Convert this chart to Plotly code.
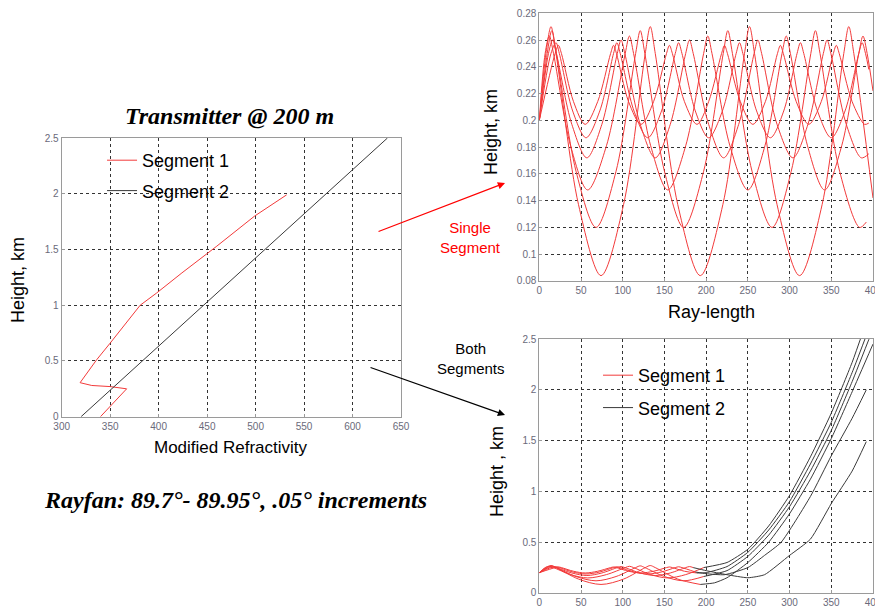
import plotly.graph_objects as go

# ---------------- data ----------------
# Left panel: modified refractivity profiles
SEG1_M = [340, 367, 350, 331, 319, 336, 350, 381, 398, 424, 460, 499, 532]
SEG1_H = [0.0, 0.25, 0.27, 0.28, 0.305, 0.51, 0.66, 1.0, 1.11, 1.29, 1.53, 1.8, 1.99]
SEG2_M = [320, 636]
SEG2_H = [0.0, 2.5]

# Top-right panel: six rays (89.7 .. 89.95 deg) in segment 1
RAY_A_X = [0, 19, 23, 26.5, 41, 55, 70, 85.5, 89, 92.5, 107, 122, 137, 152.5, 156, 159.5,
           174, 189, 203, 218.5, 222, 225.5, 241, 256, 271, 285.5, 289, 292.5, 308, 323, 338,
           352.5, 356, 359.5, 375, 390, 395]
RAY_A_Y = [0.2, 0.25, 0.256, 0.25, 0.214, 0.197, 0.214, 0.25, 0.256, 0.25, 0.214, 0.197, 0.214,
           0.25, 0.256, 0.25, 0.214, 0.197, 0.214, 0.25, 0.256, 0.25, 0.214, 0.197, 0.214,
           0.25, 0.256, 0.25, 0.214, 0.197, 0.214, 0.25, 0.256, 0.25, 0.214, 0.197, 0.198]
RAY_B_X = [0, 14, 20, 24, 40, 56, 72.5, 89, 93, 97, 113.5, 130, 146.5, 163, 167, 171, 187, 203,
           219.5, 236, 240, 244, 260.5, 277, 293, 309, 313, 317, 333.5, 350, 366.5, 383, 387, 391, 395]
RAY_B_Y = [0.2, 0.25, 0.258, 0.25, 0.207, 0.187, 0.207, 0.25, 0.258, 0.25, 0.207, 0.187, 0.207,
           0.25, 0.258, 0.25, 0.207, 0.187, 0.207, 0.25, 0.258, 0.25, 0.207, 0.187, 0.207,
           0.25, 0.258, 0.25, 0.207, 0.187, 0.207, 0.25, 0.258, 0.25, 0.238]
RAY_C_X = [0, 11, 16, 20.5, 39, 57, 75, 93.5, 98, 102.5, 121, 139, 157, 175.5, 180, 184.5, 203,
           221, 239, 257.5, 262, 266.5, 285, 304, 322, 340.5, 345, 349.5, 368, 386, 395]
RAY_C_Y = [0.2, 0.25, 0.26, 0.25, 0.197, 0.172, 0.197, 0.25, 0.26, 0.25, 0.197, 0.172, 0.197,
           0.25, 0.26, 0.25, 0.197, 0.172, 0.197, 0.25, 0.26, 0.25, 0.197, 0.172, 0.197,
           0.25, 0.26, 0.25, 0.197, 0.172, 0.175]
RAY_D_X = [0, 7, 12, 17, 37.5, 58, 80.5, 103, 108, 113, 133.5, 154, 175.5, 197, 202, 207, 228.5,
           250, 270.5, 291, 296, 301, 321.5, 342, 362.5, 383, 388, 393, 400]
RAY_D_Y = [0.2, 0.25, 0.263, 0.25, 0.181, 0.148, 0.181, 0.25, 0.263, 0.25, 0.181, 0.148, 0.181,
           0.25, 0.263, 0.25, 0.181, 0.148, 0.181, 0.25, 0.263, 0.25, 0.181, 0.148, 0.181,
           0.25, 0.263, 0.25, 0.222]
RAY_E_X = [0, 9.5, 15, 20.5, 44, 68, 92, 115.5, 121, 126.5, 150, 173, 197, 220.5, 226, 231.5,
           255, 279, 302, 325.5, 331, 336.5, 360, 384, 392]
RAY_E_Y = [0.2, 0.25, 0.267, 0.25, 0.162, 0.12, 0.162, 0.25, 0.267, 0.25, 0.162, 0.12, 0.162,
           0.25, 0.267, 0.25, 0.162, 0.12, 0.162, 0.25, 0.267, 0.25, 0.162, 0.12, 0.124]
RAY_F_X = [0, 8, 14, 20, 47, 74, 101, 127, 133, 139, 166, 193, 220, 246, 252, 258, 285, 312,
           339, 365, 371, 377, 400]
RAY_F_Y = [0.2, 0.25, 0.27, 0.25, 0.137, 0.084, 0.137, 0.25, 0.27, 0.25, 0.137, 0.084, 0.137,
           0.25, 0.27, 0.25, 0.137, 0.084, 0.137, 0.25, 0.27, 0.25, 0.142]

# Bottom-right panel: segment 2 continuation of each ray (black)
SEG2_RAY1_X = [197, 225, 250, 275, 300, 325, 350, 375, 390]
SEG2_RAY1_Y = [0.25, 0.3, 0.43, 0.66, 0.96, 1.34, 1.77, 2.27, 2.62]
SEG2_RAY2_X = [189, 200, 225, 250, 275, 300, 325, 350, 375, 395]
SEG2_RAY2_Y = [0.197, 0.2, 0.26, 0.4, 0.62, 0.9, 1.27, 1.68, 2.17, 2.6]
SEG2_RAY3_X = [197, 225, 250, 275, 300, 325, 350, 375, 400]
SEG2_RAY3_Y = [0.162, 0.22, 0.36, 0.57, 0.85, 1.2, 1.6, 2.08, 2.6]
SEG2_RAY4_X = [193, 210, 225, 250, 275, 300, 325, 350, 375, 400]
SEG2_RAY4_Y = [0.084, 0.1, 0.15, 0.3, 0.5, 0.78, 1.12, 1.52, 1.98, 2.45]
SEG2_RAY5_X = [187, 200, 222, 250, 270, 290, 325, 350, 375, 392]
SEG2_RAY5_Y = [0.207, 0.19, 0.18, 0.25, 0.37, 0.5, 0.95, 1.35, 1.72, 2.0]
SEG2_RAY6_X = [184.5, 200, 225, 250, 270, 300, 325, 350, 375, 392]
SEG2_RAY6_Y = [0.25, 0.22, 0.18, 0.15, 0.18, 0.37, 0.53, 0.88, 1.2, 1.49]

# Ticks
LEFT_X_TICKS = [300, 350, 400, 450, 500, 550, 600, 650]
LEFT_Y_TICKS = [0, 0.5, 1, 1.5, 2, 2.5]
LEFT_Y_LABELS = ["0", "0.5", "1", "1.5", "2", "2.5"]
RANGE_TICKS = [0, 50, 100, 150, 200, 250, 300, 350, 400]
TOP_Y_TICKS = [0.08, 0.1, 0.12, 0.14, 0.16, 0.18, 0.2, 0.22, 0.24, 0.26, 0.28]
TOP_Y_LABELS = ["0.08", "0.1", "0.12", "0.14", "0.16", "0.18", "0.2", "0.22", "0.24", "0.26", "0.28"]

RED = "#f23a3a"
BLACK = "#3a3a3a"

fig = go.Figure()

# ---- left panel ----
fig.add_trace(go.Scatter(x=SEG1_M, y=SEG1_H, mode="lines", name="Segment 1",
                         line=dict(color=RED, width=1), xaxis="x", yaxis="y",
                         legend="legend", legendgroup="l1"))
fig.add_trace(go.Scatter(x=SEG2_M, y=SEG2_H, mode="lines", name="Segment 2",
                         line=dict(color=BLACK, width=1), xaxis="x", yaxis="y",
                         legend="legend", legendgroup="l2"))

rays = [(RAY_A_X, RAY_A_Y), (RAY_B_X, RAY_B_Y), (RAY_C_X, RAY_C_Y),
        (RAY_D_X, RAY_D_Y), (RAY_E_X, RAY_E_Y), (RAY_F_X, RAY_F_Y)]

# ---- top-right panel ----
for rx, ry in rays:
    fig.add_trace(go.Scatter(x=rx, y=ry, mode="lines", showlegend=False,
                             line=dict(color=RED, width=1, shape="spline", smoothing=0.9),
                             xaxis="x2", yaxis="y2"))

# ---- bottom-right panel ----
for i, (rx, ry) in enumerate(rays):
    px = [x for x in rx if x <= 200]
    py = ry[:len(px)]
    fig.add_trace(go.Scatter(x=px, y=py, mode="lines", name="Segment 1",
                             showlegend=(i == 0), legend="legend2", legendgroup="b1",
                             line=dict(color=RED, width=1, shape="spline", smoothing=0.9),
                             xaxis="x3", yaxis="y3"))
seg2_rays = [(SEG2_RAY1_X, SEG2_RAY1_Y), (SEG2_RAY2_X, SEG2_RAY2_Y), (SEG2_RAY3_X, SEG2_RAY3_Y),
             (SEG2_RAY4_X, SEG2_RAY4_Y), (SEG2_RAY5_X, SEG2_RAY5_Y), (SEG2_RAY6_X, SEG2_RAY6_Y)]
for i, (rx, ry) in enumerate(seg2_rays):
    fig.add_trace(go.Scatter(x=rx, y=ry, mode="lines", name="Segment 2",
                             showlegend=(i == 0), legend="legend2", legendgroup="b2",
                             line=dict(color=BLACK, width=1, shape="spline", smoothing=0.5),
                             xaxis="x3", yaxis="y3"))

tickfont = dict(family="Liberation Sans", size=10, color="#6a6a7a")
common = dict(showline=True, mirror=True, linecolor="#9a9a9a", linewidth=1,
              showgrid=True, gridcolor="#333333", griddash="dot", gridwidth=1,
              zeroline=False, ticks="inside", ticklen=3, tickcolor="#9a9a9a",
              tickfont=tickfont, automargin=False, ticklabeloverflow="allow")

# the page body offsets the figure by 8px; layout positions account for that
fig.update_layout(
    width=883, height=613,
    margin=dict(l=0, r=0, t=0, b=0, autoexpand=False),
    paper_bgcolor="white", plot_bgcolor="white",
    font=dict(family="Liberation Sans", color="black"),
    xaxis=dict(domain=[0.0608, 0.4451], range=[300, 650], anchor="y",
               tickvals=LEFT_X_TICKS, **common),
    yaxis=dict(domain=[0.3333, 0.7879], range=[0, 2.5], anchor="x",
               tickvals=LEFT_Y_TICKS, ticktext=LEFT_Y_LABELS, **common),
    xaxis2=dict(domain=[0.6017, 0.9796], range=[0, 400], anchor="y2",
                tickvals=RANGE_TICKS, **common),
    yaxis2=dict(domain=[0.5547, 0.9914], range=[0.08, 0.28], anchor="x2",
                tickvals=TOP_Y_TICKS, ticktext=TOP_Y_LABELS, **common),
    xaxis3=dict(domain=[0.6017, 0.9796], range=[0, 400], anchor="y3",
                tickvals=RANGE_TICKS, **common),
    yaxis3=dict(domain=[0.0457, 0.4600], range=[0, 2.5], anchor="x3",
                tickvals=LEFT_Y_TICKS, ticktext=LEFT_Y_LABELS, **common),
    legend=dict(x=0.1065, y=0.7814, xanchor="left", yanchor="top",
                bgcolor="rgba(0,0,0,0)", font=dict(size=18, family="Liberation Sans"),
                tracegroupgap=4, traceorder="grouped"),
    legend2=dict(x=0.6682, y=0.4307, xanchor="left", yanchor="top",
                 bgcolor="rgba(0,0,0,0)", font=dict(size=18, family="Liberation Sans"),
                 tracegroupgap=6, traceorder="grouped"),
)

def label(text, x, y, size, color="black", family="Liberation Sans", angle=0):
    return dict(text=text, x=x, y=y, xref="paper", yref="paper", showarrow=False,
                xanchor="center", yanchor="middle", textangle=angle,
                font=dict(family=family, size=size, color=color))

ann = [
    label("<b><i>Transmitter @ 200 m</i></b>", 0.2514, 0.8238, 24, family="Liberation Serif"),
    label("<b><i>Rayfan: 89.7°- 89.95°, .05° increments</i></b>", 0.2582, 0.1974, 24,
          family="Liberation Serif"),
    label("Modified Refractivity", 0.2525, 0.2838, 17),
    label("Height, km", 0.0113, 0.5563, 18, angle=-90),
    label("Height, km", 0.547, 0.7977, 18, angle=-90),
    label("Ray-length", 0.7969, 0.5041, 18),
    label("Height , km", 0.5538, 0.2431, 18, angle=-90),
    label("Single<br>Segment", 0.5243, 0.6264, 15, color="#ff0000"),
    label("Both<br>Segments", 0.5243, 0.4290, 15),
]
# arrows
ann.append(dict(text="", x=0.5629, y=0.7145, xref="paper", yref="paper",
                ax=-128, ay=49, showarrow=True, arrowhead=2, arrowsize=1.2, arrowwidth=1.2,
                arrowcolor="#ff0000"))
ann.append(dict(text="", x=0.5629, y=0.3361, xref="paper", yref="paper",
                ax=-136, ay=-48, showarrow=True, arrowhead=2, arrowsize=1.2, arrowwidth=1.2,
                arrowcolor="black"))
fig.update_layout(annotations=ann)

fig.write_html("out.html")
